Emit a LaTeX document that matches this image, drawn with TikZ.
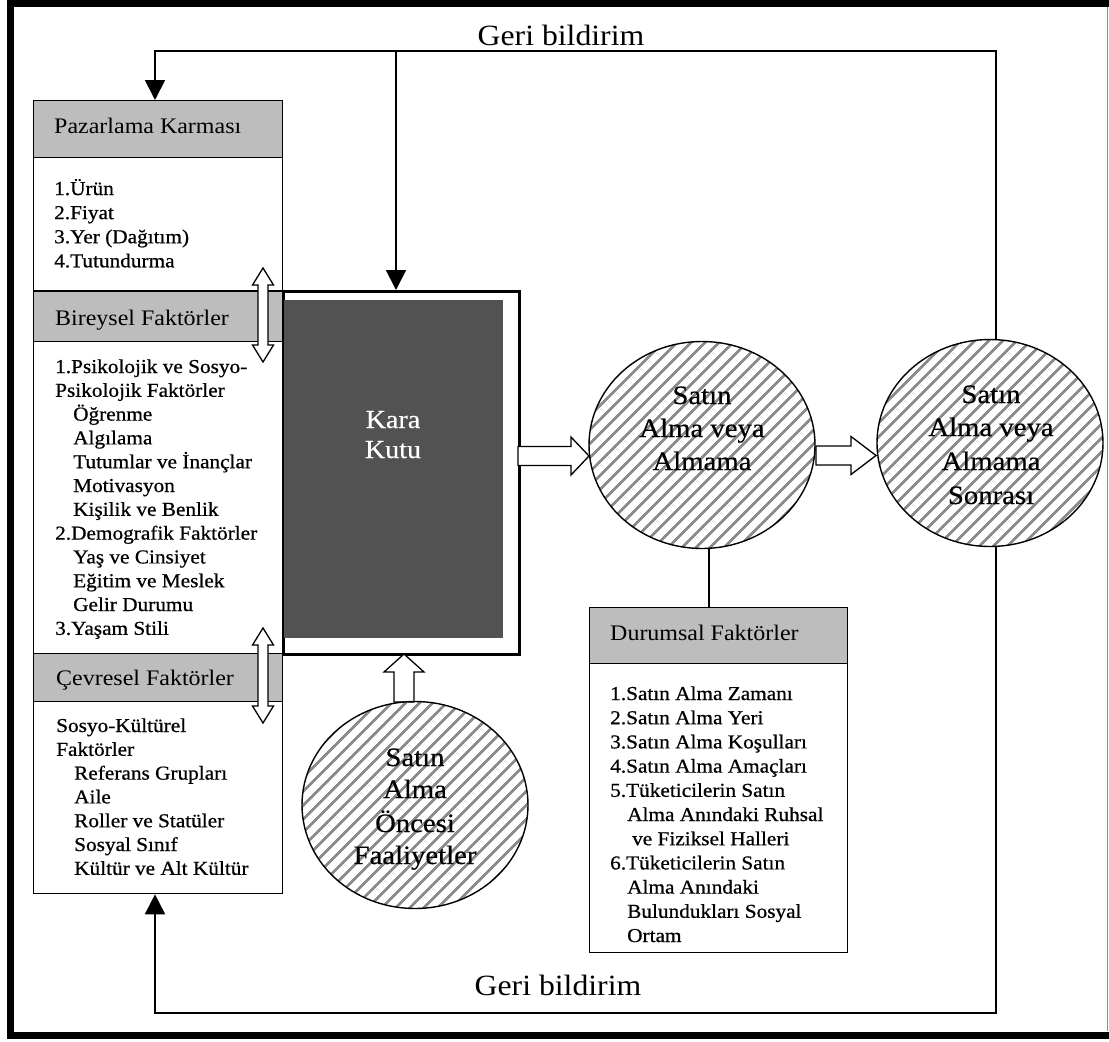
\documentclass[tikz,border=0pt]{standalone}
\usepackage{fontspec}
\setmainfont[FakeStretch=1.08]{Liberation Serif}
\newfontfamily\listfont[FakeStretch=1.08,FakeBold=0.7]{Liberation Serif}
\newfontfamily\circfont[FakeStretch=1.08,FakeBold=0.4]{Liberation Serif}
\usetikzlibrary{arrows.meta,patterns.meta,calc,shapes.geometric}

\newcommand{\fatR}[3]{%
  \draw[fat] ($(#1)+(0,-9.5)$) -- ($(#2)+(-#3,-9.5)$) -- ($(#2)+(-#3,-19)$) -- (#2)
   -- ($(#2)+(-#3,19)$) -- ($(#2)+(-#3,9.5)$) -- ($(#1)+(0,9.5)$) -- cycle;}
\newcommand{\fatU}[3]{%
  \draw[fat] ($(#1)+(-10,0)$) -- ($(#2)+(-10,#3)$) -- ($(#2)+(-20,#3)$) -- (#2)
   -- ($(#2)+(20,#3)$) -- ($(#2)+(10,#3)$) -- ($(#1)+(10,0)$) -- cycle;}
\newcommand{\fatUD}[2]{%
  \draw[fat] (#1) -- ($(#1)+(10.5,17)$) -- ($(#1)+(5,17)$) -- ($(#2)+(5,-17)$)
   -- ($(#2)+(10.5,-17)$) -- (#2) -- ($(#2)+(-10.5,-17)$) -- ($(#2)+(-5,-17)$)
   -- ($(#1)+(-5,17)$) -- ($(#1)+(-10.5,17)$) -- cycle;}

\begin{document}
\begin{tikzpicture}[x=1pt,y=-1pt,
  box/.style={draw,line width=1.3pt,minimum width=249pt,inner sep=0,anchor=north west},
  hdr/.style={box,fill=black!26},
  htxt/.style={anchor=base west,inner sep=0,font=\fontsize{22.2}{26}\selectfont},
  btxt/.style={anchor=base west,inner sep=0,font=\listfont\fontsize{19.7}{24}\selectfont},
  ctxt/.style={anchor=base,inner sep=0,font=\circfont\fontsize{26.6}{33}\selectfont},
  gtxt/.style={anchor=base,inner sep=0,font=\fontsize{29.4}{33}\selectfont},
  fb/.style={line width=1.8pt},
  fbarrow/.style={fb,-{Triangle[length=20pt,width=20pt]}},
  hatch/.style={draw,line width=1.4pt,ellipse,inner sep=0,minimum width=226pt,minimum height=207pt,
     pattern={Lines[angle=45,distance=10.5pt,line width=3pt]},pattern color=black!45},
  fat/.style={draw,line width=1.3pt,fill=white,line join=miter}
]
\useasboundingbox (0,0) rectangle (1109,1042);

% outer frame
\draw[line width=7pt] (1112,3.5) -- (10,3.5) -- (10,1035) -- (1112,1035);
\draw[black!45,line width=1pt] (1107.5,7) -- (1107.5,1031);

% feedback labels
\node[gtxt] (gtop) at (561,45) {Geri bildirim};
\node[gtxt] (gbot) at (558,995) {Geri bildirim};

% left boxes
\node[hdr,minimum height=57pt] (pzh) at (33,100) {};
\node[box,minimum height=133pt] (pzb) at (33,157) {};
\node[hdr,minimum height=50pt] (bh) at (33,291) {};
\node[box,minimum height=312pt] (bb) at (33,341) {};
\node[hdr,minimum height=48pt] (ch) at (33,653) {};
\node[box,minimum height=192pt] (cb) at (33,701) {};

\node[htxt] (pzt) at (54,133) {Pazarlama Karması};
\node[htxt] (bt) at (55,325) {Bireysel Faktörler};
\node[htxt] (ct) at (56,685) {Çevresel Faktörler};

\foreach \xx/\t [count=\i] in {54/1.Ürün, 54/2.Fiyat, 54/3.Yer (Dağıtım), 54/4.Tutundurma}
  \node[btxt] (pz\i) at ({\xx},{195+24.1*(\i-1)}) {\t};

\foreach \xx/\t [count=\i] in {55/1.Psikolojik ve Sosyo-, 55/Psikolojik Faktörler, 73/Öğrenme,
  73/Algılama, 73/Tutumlar ve İnançlar, 73/Motivasyon, 73/Kişilik ve Benlik,
  55/2.Demografik Faktörler, 73/Yaş ve Cinsiyet, 73/Eğitim ve Meslek, 73/Gelir Durumu,
  55/3.Yaşam Stili}
  \node[btxt] (bi\i) at ({\xx},{373+23.8*(\i-1)}) {\t};

\foreach \xx/\t [count=\i] in {56/Sosyo-Kültürel, 56/Faktörler, 74/Referans Grupları, 74/Aile,
  74/Roller ve Statüler, 74/Sosyal Sınıf, 74/Kültür ve Alt Kültür}
  \node[btxt] (ci\i) at ({\xx},{732+23.8*(\i-1)}) {\t};

% Kara Kutu
\node[draw,line width=3pt,inner sep=0,minimum width=236pt,minimum height=363pt,anchor=north west] (kkf) at (282,290) {};
\node[fill=black!68,inner sep=0,minimum width=219pt,minimum height=338pt,anchor=north west] (kk) at (284,300) {};
\node[anchor=base,inner sep=0,text=white,font=\circfont\fontsize{26}{30}\selectfont] (kt1) at (393,428) {Kara};
\node[anchor=base,inner sep=0,text=white,font=\circfont\fontsize{26}{30}\selectfont] (kt2) at (393,458) {Kutu};

% fat arrows (drawn under the circles)
\coordinate (a1s) at (518,456);
\coordinate (a1e) at (589,456);
\coordinate (a2s) at (816,455.5);
\coordinate (a2e) at (876,455.5);
\coordinate (a3s) at (404,702);
\coordinate (a3e) at (404,654);
\fatR{a1s}{a1e}{18}
\fatR{a2s}{a2e}{25}
\fatU{a3s}{a3e}{18}

% circles
\node[hatch] (c1) at (702,445) {};
\node[hatch] (c2) at (990,443) {};
\node[hatch] (c3) at (415,805) {};

\node[ctxt] (c1a) at (702,404) {Satın};
\node[ctxt] (c1b) at (702,437) {Alma veya};
\node[ctxt] (c1c) at (702,470) {Almama};

\node[ctxt] (c2a) at (991,403) {Satın};
\node[ctxt] (c2b) at (991,436) {Alma veya};
\node[ctxt] (c2c) at (991,470) {Almama};
\node[ctxt] (c2d) at (991,504) {Sonrası};

\node[ctxt] (c3a) at (415,766) {Satın};
\node[ctxt] (c3b) at (415,798) {Alma};
\node[ctxt] (c3c) at (415,832) {Öncesi};
\node[ctxt] (c3d) at (415,864) {Faaliyetler};

% Durumsal Faktörler
\node[hdr,minimum width=258pt,minimum height=56pt] (dh) at (589,607) {};
\node[box,minimum width=258pt,minimum height=289pt] (db) at (589,663) {};
\node[htxt] (dt) at (610,640) {Durumsal Faktörler};
\foreach \xx/\t [count=\i] in {610/1.Satın Alma Zamanı, 610/2.Satın Alma Yeri,
  610/3.Satın Alma Koşulları, 610/4.Satın Alma Amaçları, 610/5.Tüketicilerin Satın,
  627/Alma Anındaki Ruhsal, 632/ve Fiziksel Halleri, 610/6.Tüketicilerin Satın,
  627/Alma Anındaki, 627/Bulundukları Sosyal, 627/Ortam}
  \node[btxt] (di\i) at ({\xx},{700+24.2*(\i-1)}) {\t};

\coordinate (dl) at (709,548);
\draw[fb] (dl) -- (dl |- dh.north);

% feedback loops
\coordinate (tl) at (155,51);
\coordinate (tr) at (996,51);
\coordinate (tm) at (396,51);
\coordinate (bl) at (155,1013);
\coordinate (br) at (996,1013);
\draw[fbarrow] (tr |- c2.north) -- (tr) -- (tl) -- (tl |- pzh.north);
\draw[fbarrow] (tm) -- (tm |- kkf.north);
\draw[fbarrow] (br |- c2.south) -- (br) -- (bl) -- (bl |- cb.south);

% double arrows between left boxes
\coordinate (d1t) at (263,268);
\coordinate (d1b) at (263,362);
\coordinate (d2t) at (263,628);
\coordinate (d2b) at (263,723);
\fatUD{d1t}{d1b}
\fatUD{d2t}{d2b}
\end{tikzpicture}
\end{document}
